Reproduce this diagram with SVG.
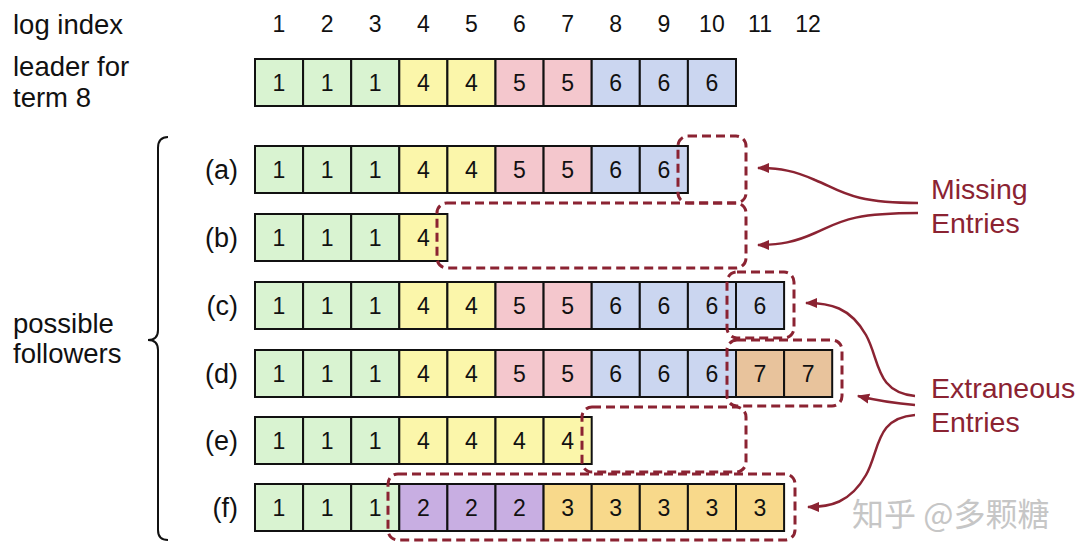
<svg xmlns="http://www.w3.org/2000/svg" width="1080" height="555" viewBox="0 0 1080 555">
<defs>
<style>
text{font-family:"Liberation Sans",Arial,sans-serif;fill:#111}
.lbl{font-size:27.5px}
.idx{font-size:23px;text-anchor:middle}
.n{font-size:23px;text-anchor:middle}
.rl{font-size:27px;text-anchor:end}
.red{fill:#8b2332;font-size:28.5px}
rect.c{stroke:#111;stroke-width:2}
.g{fill:#d9f3d1}.y{fill:#fbf6aa}.p{fill:#f4c7cd}.b{fill:#cbd6f0}.t{fill:#e8c39c}.v{fill:#c8aee2}.o{fill:#f8d98b}
.dash{fill:none;stroke:#8b2332;stroke-width:3;stroke-dasharray:9 5}
.arr{fill:none;stroke:#8b2332;stroke-width:2.5;marker-end:url(#ah)}
.wm{fill:#c6c6c6;font-size:32px;font-family:"Noto Sans CJK SC","Liberation Sans",sans-serif}
</style>
<marker id="ah" viewBox="0 0 10 10" refX="9" refY="5" markerWidth="5" markerHeight="5" orient="auto" markerUnits="strokeWidth">
<path d="M0,1 L10,5 L0,9 Z" fill="#8b2332"/>
</marker>
</defs>
<rect width="1080" height="555" fill="#fff"/>

<g id="header">
<text class="lbl" x="13" y="34">log index</text>
<text class="lbl" x="13" y="76">leader for</text>
<text class="lbl" x="13" y="107">term 8</text>
<text class="idx" x="279" y="32">1</text>
<text class="idx" x="327.1" y="32">2</text>
<text class="idx" x="375.2" y="32">3</text>
<text class="idx" x="423.3" y="32">4</text>
<text class="idx" x="471.4" y="32">5</text>
<text class="idx" x="519.5" y="32">6</text>
<text class="idx" x="567.6" y="32">7</text>
<text class="idx" x="615.7" y="32">8</text>
<text class="idx" x="663.8" y="32">9</text>
<text class="idx" x="711.9" y="32">10</text>
<text class="idx" x="760" y="32">11</text>
<text class="idx" x="808.1" y="32">12</text>
</g>

<g id="leader">
<rect class="c g" x="255" y="59" width="48.1" height="47"/>
<rect class="c g" x="303.1" y="59" width="48.1" height="47"/>
<rect class="c g" x="351.2" y="59" width="48.1" height="47"/>
<rect class="c y" x="399.3" y="59" width="48.1" height="47"/>
<rect class="c y" x="447.4" y="59" width="48.1" height="47"/>
<rect class="c p" x="495.5" y="59" width="48.1" height="47"/>
<rect class="c p" x="543.6" y="59" width="48.1" height="47"/>
<rect class="c b" x="591.7" y="59" width="48.1" height="47"/>
<rect class="c b" x="639.8" y="59" width="48.1" height="47"/>
<rect class="c b" x="687.9" y="59" width="48.1" height="47"/>
<text class="n" x="279" y="91">1</text><text class="n" x="327.1" y="91">1</text><text class="n" x="375.2" y="91">1</text>
<text class="n" x="423.3" y="91">4</text><text class="n" x="471.4" y="91">4</text>
<text class="n" x="519.5" y="91">5</text><text class="n" x="567.6" y="91">5</text>
<text class="n" x="615.7" y="91">6</text><text class="n" x="663.8" y="91">6</text><text class="n" x="711.9" y="91">6</text>
</g>

<g id="row-a">
<text class="rl" x="238" y="179">(a)</text>
<rect class="c g" x="255" y="146" width="48.1" height="47"/>
<rect class="c g" x="303.1" y="146" width="48.1" height="47"/>
<rect class="c g" x="351.2" y="146" width="48.1" height="47"/>
<rect class="c y" x="399.3" y="146" width="48.1" height="47"/>
<rect class="c y" x="447.4" y="146" width="48.1" height="47"/>
<rect class="c p" x="495.5" y="146" width="48.1" height="47"/>
<rect class="c p" x="543.6" y="146" width="48.1" height="47"/>
<rect class="c b" x="591.7" y="146" width="48.1" height="47"/>
<rect class="c b" x="639.8" y="146" width="48.1" height="47"/>
<text class="n" x="279" y="178">1</text><text class="n" x="327.1" y="178">1</text><text class="n" x="375.2" y="178">1</text>
<text class="n" x="423.3" y="178">4</text><text class="n" x="471.4" y="178">4</text>
<text class="n" x="519.5" y="178">5</text><text class="n" x="567.6" y="178">5</text>
<text class="n" x="615.7" y="178">6</text><text class="n" x="663.8" y="178">6</text>
</g>

<g id="row-b">
<text class="rl" x="238" y="247">(b)</text>
<rect class="c g" x="255" y="214" width="48.1" height="47"/>
<rect class="c g" x="303.1" y="214" width="48.1" height="47"/>
<rect class="c g" x="351.2" y="214" width="48.1" height="47"/>
<rect class="c y" x="399.3" y="214" width="48.1" height="47"/>
<text class="n" x="279" y="246">1</text><text class="n" x="327.1" y="246">1</text><text class="n" x="375.2" y="246">1</text>
<text class="n" x="423.3" y="246">4</text>
</g>

<g id="row-c">
<text class="rl" x="238" y="315">(c)</text>
<rect class="c g" x="255" y="282" width="48.1" height="47"/>
<rect class="c g" x="303.1" y="282" width="48.1" height="47"/>
<rect class="c g" x="351.2" y="282" width="48.1" height="47"/>
<rect class="c y" x="399.3" y="282" width="48.1" height="47"/>
<rect class="c y" x="447.4" y="282" width="48.1" height="47"/>
<rect class="c p" x="495.5" y="282" width="48.1" height="47"/>
<rect class="c p" x="543.6" y="282" width="48.1" height="47"/>
<rect class="c b" x="591.7" y="282" width="48.1" height="47"/>
<rect class="c b" x="639.8" y="282" width="48.1" height="47"/>
<rect class="c b" x="687.9" y="282" width="48.1" height="47"/>
<rect class="c b" x="736" y="282" width="48.1" height="47"/>
<text class="n" x="279" y="314">1</text><text class="n" x="327.1" y="314">1</text><text class="n" x="375.2" y="314">1</text>
<text class="n" x="423.3" y="314">4</text><text class="n" x="471.4" y="314">4</text>
<text class="n" x="519.5" y="314">5</text><text class="n" x="567.6" y="314">5</text>
<text class="n" x="615.7" y="314">6</text><text class="n" x="663.8" y="314">6</text><text class="n" x="711.9" y="314">6</text>
<text class="n" x="760" y="314">6</text>
</g>

<g id="row-d">
<text class="rl" x="238" y="383">(d)</text>
<rect class="c g" x="255" y="350" width="48.1" height="47"/>
<rect class="c g" x="303.1" y="350" width="48.1" height="47"/>
<rect class="c g" x="351.2" y="350" width="48.1" height="47"/>
<rect class="c y" x="399.3" y="350" width="48.1" height="47"/>
<rect class="c y" x="447.4" y="350" width="48.1" height="47"/>
<rect class="c p" x="495.5" y="350" width="48.1" height="47"/>
<rect class="c p" x="543.6" y="350" width="48.1" height="47"/>
<rect class="c b" x="591.7" y="350" width="48.1" height="47"/>
<rect class="c b" x="639.8" y="350" width="48.1" height="47"/>
<rect class="c b" x="687.9" y="350" width="48.1" height="47"/>
<rect class="c t" x="736" y="350" width="48.1" height="47"/>
<rect class="c t" x="784.1" y="350" width="48.1" height="47"/>
<text class="n" x="279" y="382">1</text><text class="n" x="327.1" y="382">1</text><text class="n" x="375.2" y="382">1</text>
<text class="n" x="423.3" y="382">4</text><text class="n" x="471.4" y="382">4</text>
<text class="n" x="519.5" y="382">5</text><text class="n" x="567.6" y="382">5</text>
<text class="n" x="615.7" y="382">6</text><text class="n" x="663.8" y="382">6</text><text class="n" x="711.9" y="382">6</text>
<text class="n" x="760" y="382">7</text><text class="n" x="808.1" y="382">7</text>
</g>

<g id="row-e">
<text class="rl" x="238" y="450">(e)</text>
<rect class="c g" x="255" y="417" width="48.1" height="47"/>
<rect class="c g" x="303.1" y="417" width="48.1" height="47"/>
<rect class="c g" x="351.2" y="417" width="48.1" height="47"/>
<rect class="c y" x="399.3" y="417" width="48.1" height="47"/>
<rect class="c y" x="447.4" y="417" width="48.1" height="47"/>
<rect class="c y" x="495.5" y="417" width="48.1" height="47"/>
<rect class="c y" x="543.6" y="417" width="48.1" height="47"/>
<text class="n" x="279" y="449">1</text><text class="n" x="327.1" y="449">1</text><text class="n" x="375.2" y="449">1</text>
<text class="n" x="423.3" y="449">4</text><text class="n" x="471.4" y="449">4</text>
<text class="n" x="519.5" y="449">4</text><text class="n" x="567.6" y="449">4</text>
</g>

<g id="row-f">
<text class="rl" x="238" y="517">(f)</text>
<rect class="c g" x="255" y="484" width="48.1" height="47"/>
<rect class="c g" x="303.1" y="484" width="48.1" height="47"/>
<rect class="c g" x="351.2" y="484" width="48.1" height="47"/>
<rect class="c v" x="399.3" y="484" width="48.1" height="47"/>
<rect class="c v" x="447.4" y="484" width="48.1" height="47"/>
<rect class="c v" x="495.5" y="484" width="48.1" height="47"/>
<rect class="c o" x="543.6" y="484" width="48.1" height="47"/>
<rect class="c o" x="591.7" y="484" width="48.1" height="47"/>
<rect class="c o" x="639.8" y="484" width="48.1" height="47"/>
<rect class="c o" x="687.9" y="484" width="48.1" height="47"/>
<rect class="c o" x="736" y="484" width="48.1" height="47"/>
<text class="n" x="279" y="516">1</text><text class="n" x="327.1" y="516">1</text><text class="n" x="375.2" y="516">1</text>
<text class="n" x="423.3" y="516">2</text><text class="n" x="471.4" y="516">2</text><text class="n" x="519.5" y="516">2</text>
<text class="n" x="567.6" y="516">3</text><text class="n" x="615.7" y="516">3</text><text class="n" x="663.8" y="516">3</text>
<text class="n" x="711.9" y="516">3</text><text class="n" x="760" y="516">3</text>
</g>

<g id="followers-label">
<text class="lbl" x="13" y="333">possible</text>
<text class="lbl" x="13" y="363">followers</text>
<path d="M168,137 Q158,137 158,148 L158,330 Q158,340 148,340 Q158,340 158,350 L158,530 Q158,540 168,540" fill="none" stroke="#111" stroke-width="2"/>
</g>

<g id="highlight-boxes">
<rect class="dash" x="678" y="136" width="68" height="67" rx="10"/>
<rect class="dash" x="437" y="203" width="309" height="65" rx="10"/>
<rect class="dash" x="727" y="272" width="67" height="66" rx="10"/>
<rect class="dash" x="727" y="340" width="115" height="66" rx="10"/>
<rect class="dash" x="582" y="407" width="164" height="65" rx="10"/>
<rect class="dash" x="388" y="474" width="407" height="66" rx="10"/>
</g>

<g id="callouts">
<text class="red" x="931" y="199">Missing</text>
<text class="red" x="931" y="233">Entries</text>
<text class="red" x="931" y="398">Extraneous</text>
<text class="red" x="931" y="432">Entries</text>
</g>

<g id="connectors">
<path class="arr" d="M918,203 C850,203 840,190 815,180 C795,171 780,168 758,168"/>
<path class="arr" d="M918,213 C850,213 840,222 815,233 C795,242 780,245 758,245"/>
<path class="arr" d="M915,396 C875,392 880,360 866,335 C850,307 830,303 806,303"/>
<path class="arr" d="M915,405 C890,403 875,400 858,396"/>
<path class="arr" d="M915,415 C875,418 880,450 866,475 C850,503 830,507 808,507"/>
</g>

<g id="watermark">
<text class="wm" x="852" y="526">知乎 @多颗糖</text>
</g>
</svg>
